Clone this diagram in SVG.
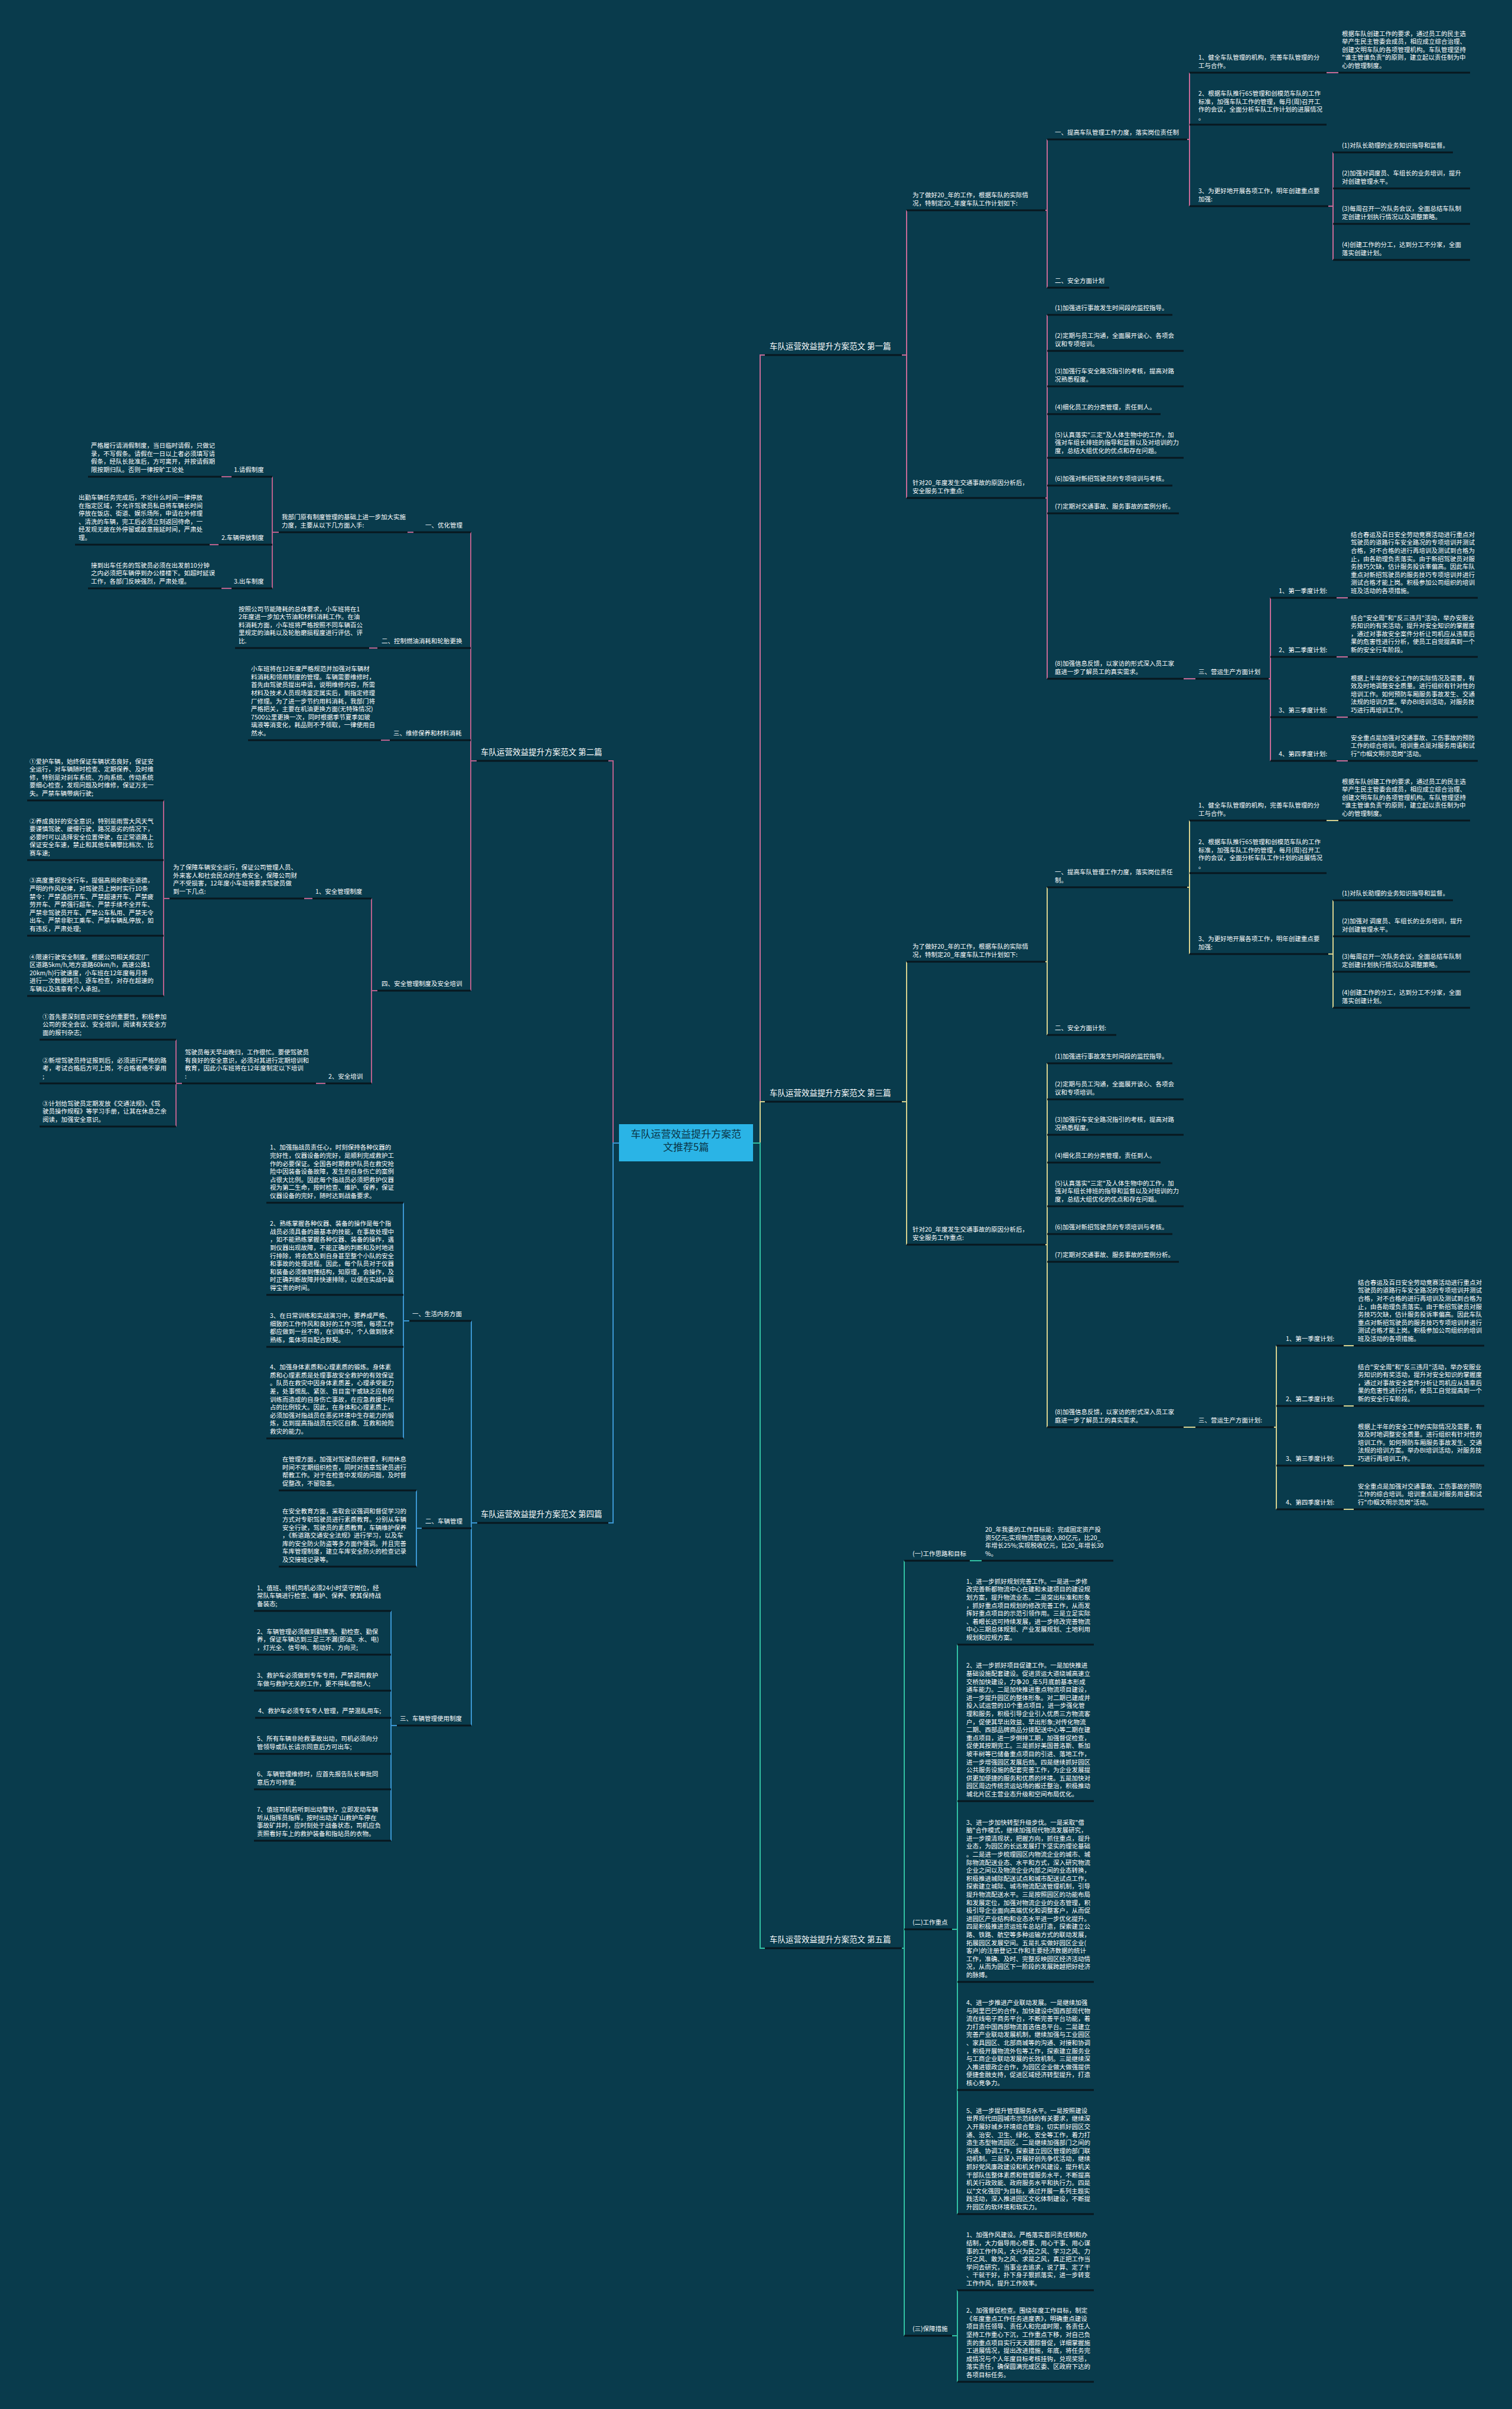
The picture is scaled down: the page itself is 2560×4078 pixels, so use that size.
<svg xmlns="http://www.w3.org/2000/svg" width="2560" height="4078" viewBox="0 0 2560 4078">
<style>
text{font-family:"Noto Sans CJK SC","Noto Sans",sans-serif;fill:#ffffff;font-size:10.5px}
.m{font-size:13.5px}
.c{font-size:17px;fill:#0a3546;text-anchor:middle}
.u{stroke:#08171e;stroke-width:3;fill:none}
.k{fill:none;stroke-width:2}
.p1{stroke:#c76a96}.p2{stroke:#b9618c}.y3{stroke:#d8d28f}.b4{stroke:#3c97d3}.g5{stroke:#32c1a3}
</style>
<rect width="2560" height="4078" fill="#093b4c"/>
<g id="connectors">
<path class="k p1" d="M1275,1935H1287V601H1295"/>
<path class="k y3" d="M1275,1935H1287V1865H1295"/>
<path class="k g5" d="M1275,1935H1287V3298H1295"/>
<path class="k p2" d="M1048,1935H1038V1288H1030"/>
<path class="k b4" d="M1048,1935H1038V2578H1030"/>
<path class="k p1" d="M1527,601H1535M1535,356V843M1535,356h8M1535,843h8M1770,356H1773M1773,236V487M1773,236h8M1773,487h8M2010,236H2014M2014,123V349M2014,123h8M2014,211h8M2014,349h8M2246,123H2266M2249,349H2257M2257,258V440M2257,258h8M2257,319h8M2257,379h8M2257,440h8M1770,843H1773M1773,533V1149M1773,533h8M1773,594h8M1773,654h8M1773,701h8M1773,775h8M1773,822h8M1773,869h8M1773,1149h8M2004,1149H2024M2148,1149H2151M2151,1012V1288M2151,1012h8M2151,1112h8M2151,1214h8M2151,1288h8M2263,1012H2282M2263,1112H2282M2263,1214H2282M2263,1288H2282"/>
<path class="k y3" d="M1527,1865H1535M1535,1628V2107M1535,1628h8M1535,2107h8M1770,1628H1773M1773,1502V1752M1773,1502h8M1773,1752h8M2010,1502H2014M2014,1389V1615M2014,1389h8M2014,1478h8M2014,1615h8M2246,1389H2266M2249,1615H2257M2257,1524V1706M2257,1524h8M2257,1585h8M2257,1645h8M2257,1706h8M1770,2107H1773M1773,1800V2416M1773,1800h8M1773,1861h8M1773,1921h8M1773,1968h8M1773,2042h8M1773,2089h8M1773,2136h8M1773,2416h8M2004,2416H2024M2157,2416H2161M2161,2278V2555M2161,2278h8M2161,2380h8M2161,2481h8M2161,2555h8M2275,2278H2292M2275,2380H2292M2275,2481H2292M2275,2555H2292"/>
<path class="k p2" d="M807,1288H797M797,901V1677M797,901h-8M797,1097h-8M797,1253h-8M797,1677h-8M700,901H690M472,901H461M461,807V996M461,807h-8M461,922h-8M461,996h-8M392,807H375M370,922H355M392,996H375M639,1097H625M660,1253H645M639,1677H629M629,1521V1834M629,1521h-8M629,1834h-8M529,1521H515M287,1521H277M277,1355V1686M277,1355h-8M277,1456h-8M277,1584h-8M277,1686h-8M551,1834H535M308,1834H298M298,1760V1907M298,1760h-8M298,1834h-8M298,1907h-8"/>
<path class="k b4" d="M808,2578H798M798,2236V2921M798,2236h-8M798,2587h-8M798,2921h-8M693,2236H683M683,2036V2435M683,2036h-8M683,2192h-8M683,2280h-8M683,2435h-8M714,2587H705M705,2523V2652M705,2523h-8M705,2652h-8M672,2921H662M662,2727V3116M662,2727h-8M662,2801h-8M662,2862h-8M662,2908h-8M662,2969h-8M662,3029h-8M662,3116h-8"/>
<path class="k g5" d="M1527,3298H1531M1531,2642V3954M1531,2642h8M1531,3266h8M1531,3954h8M1642,2642H1662M1612,3266H1621M1621,2784V3748M1621,2784h8M1621,3049h8M1621,3355h8M1621,3538h8M1621,3748h8M1612,3954H1621M1621,3877V4032M1621,3877h8M1621,4032h8"/>
</g>
<g id="center">
<rect x="1048" y="1903" width="227" height="63" fill="#2ab4e6"/>
<text class="c" x="1161.5" y="1926">车队运营效益提升方案范<tspan x="1161.5" dy="22">文推荐5篇</tspan></text>
</g>
<!-- Article 1 -->
<g id="a1"><text class="m" x="1303" y="591">车队运营效益提升方案范文 第一篇</text><line class="u" x1="1295" y1="601" x2="1527" y2="601"/></g>
<g id="a1-s1"><text x="1545" y="334.4">为了做好20_年的工作，根据车队的实际情<tspan x="1545" dy="13.6">况，特制定20_年度车队工作计划如下:</tspan></text><line class="u" x1="1535" y1="356" x2="1770" y2="356"/></g>
<g id="a1-n1"><text x="1786" y="228">一、提高车队管理工作力度，落实岗位责任制</text><line class="u" x1="1773" y1="236" x2="2010" y2="236"/></g>
<g id="a1-n1a"><text x="2029" y="101.4">1、健全车队管理的机构，完善车队管理的分<tspan x="2029" dy="13.6">工与合作。</tspan></text><line class="u" x1="2014" y1="123" x2="2246" y2="123"/></g>
<g id="a1-n1ad"><text x="2272" y="60.6">根据车队创建工作的要求，通过员工的民主选<tspan x="2272" dy="13.6">举产生民主管委会成员，相应成立综合治理、</tspan><tspan x="2272" dy="13.6">创建文明车队的各项管理机构。车队管理坚持</tspan><tspan x="2272" dy="13.6">"谁主管谁负责"的原则，建立起以责任制为中</tspan><tspan x="2272" dy="13.6">心的管理制度。</tspan></text><line class="u" x1="2266" y1="123" x2="2489" y2="123"/></g>
<g id="a1-n1b"><text x="2029" y="162.2">2、根据车队推行6S管理和创模范车队的工作<tspan x="2029" dy="13.6">标准，加强车队工作的管理，每月(周)召开工</tspan><tspan x="2029" dy="13.6">作的会议，全面分析车队工作计划的进展情况</tspan><tspan x="2029" dy="13.6">。</tspan></text><line class="u" x1="2014" y1="211" x2="2246" y2="211"/></g>
<g id="a1-n1c"><text x="2029" y="327.4">3、为更好地开展各项工作，明年创建重点要<tspan x="2029" dy="13.6">加强:</tspan></text><line class="u" x1="2014" y1="349" x2="2249" y2="349"/></g>
<g id="a1-n1c1"><text x="2272" y="250">(1)对队长助理的业务知识指导和监督。</text><line class="u" x1="2257" y1="258" x2="2460" y2="258"/></g>
<g id="a1-n1c2"><text x="2272" y="297.4">(2)加强对调度员、车组长的业务培训，提升<tspan x="2272" dy="13.6">对创建管理水平。</tspan></text><line class="u" x1="2257" y1="319" x2="2489" y2="319"/></g>
<g id="a1-n1c3"><text x="2272" y="357.4">(3)每周召开一次队务会议，全面总结车队制<tspan x="2272" dy="13.6">定创建计划执行情况以及调整策略。</tspan></text><line class="u" x1="2257" y1="379" x2="2489" y2="379"/></g>
<g id="a1-n1c4"><text x="2272" y="418.4">(4)创建工作的分工，达到分工不分家，全面<tspan x="2272" dy="13.6">落实创建计划。</tspan></text><line class="u" x1="2257" y1="440" x2="2489" y2="440"/></g>
<g id="a1-n2"><text x="1786" y="479">二、安全方面计划</text><line class="u" x1="1773" y1="487" x2="1878" y2="487"/></g>
<g id="a1-s2"><text x="1545" y="821.4">针对20_年度发生交通事故的原因分析后，<tspan x="1545" dy="13.6">安全服务工作重点:</tspan></text><line class="u" x1="1535" y1="843" x2="1770" y2="843"/></g>
<g id="a1-s2-1"><text x="1786" y="525">(1)加强进行事故发生时间段的监控指导。</text><line class="u" x1="1773" y1="533" x2="1985" y2="533"/></g>
<g id="a1-s2-2"><text x="1786" y="572.4">(2)定期与员工沟通，全面展开谈心、各项会<tspan x="1786" dy="13.6">议和专项培训。</tspan></text><line class="u" x1="1773" y1="594" x2="2004" y2="594"/></g>
<g id="a1-s2-3"><text x="1786" y="632.4">(3)加强行车安全路况指引的考核，提高对路<tspan x="1786" dy="13.6">况熟悉程度。</tspan></text><line class="u" x1="1773" y1="654" x2="2004" y2="654"/></g>
<g id="a1-s2-4"><text x="1786" y="693">(4)细化员工的分类管理，责任到人。</text><line class="u" x1="1773" y1="701" x2="1965" y2="701"/></g>
<g id="a1-s2-5"><text x="1786" y="739.8">(5)认真落实"三定"及人体生物中的工作，加<tspan x="1786" dy="13.6">强对车组长排班的指导和监督以及对培训的力</tspan><tspan x="1786" dy="13.6">度，总结大组优化的优点和存在问题。</tspan></text><line class="u" x1="1773" y1="775" x2="2004" y2="775"/></g>
<g id="a1-s2-6"><text x="1786" y="814">(6)加强对新招驾驶员的专项培训与考核。</text><line class="u" x1="1773" y1="822" x2="1985" y2="822"/></g>
<g id="a1-s2-7"><text x="1786" y="861">(7)定期对交通事故、服务事故的案例分析。</text><line class="u" x1="1773" y1="869" x2="1996" y2="869"/></g>
<g id="a1-s2-8"><text x="1786" y="1127.4">(8)加强信息反馈，以家访的形式深入员工家<tspan x="1786" dy="13.6">庭进一步了解员工的真实需求。</tspan></text><line class="u" x1="1773" y1="1149" x2="2004" y2="1149"/></g>
<g id="a1-s3"><text x="2029" y="1141">三、营运生产方面计划</text><line class="u" x1="2024" y1="1149" x2="2148" y2="1149"/></g>
<g id="a1-q1"><text x="2165" y="1004">1、第一季度计划:</text><line class="u" x1="2151" y1="1012" x2="2263" y2="1012"/></g>
<g id="a1-q1d"><text x="2287" y="908.8">结合春运及百日安全劳动竞赛活动进行重点对<tspan x="2287" dy="13.6">驾驶员的道路行车安全路况的专项培训并测试</tspan><tspan x="2287" dy="13.6">合格，对不合格的进行再培训及测试到合格为</tspan><tspan x="2287" dy="13.6">止，由各助理负责落实。由于新招驾驶员对服</tspan><tspan x="2287" dy="13.6">务技巧欠缺，估计服务投诉率偏高。因此车队</tspan><tspan x="2287" dy="13.6">重点对新招驾驶员的服务技巧专项培训并进行</tspan><tspan x="2287" dy="13.6">测试合格才能上岗。积极参加公司组织的培训</tspan><tspan x="2287" dy="13.6">班及活动的各项措施。</tspan></text><line class="u" x1="2282" y1="1012" x2="2502" y2="1012"/></g>
<g id="a1-q2"><text x="2165" y="1104">2、第二季度计划:</text><line class="u" x1="2151" y1="1112" x2="2263" y2="1112"/></g>
<g id="a1-q2d"><text x="2287" y="1049.6">结合"安全周"和"反三违月"活动，举办安服业<tspan x="2287" dy="13.6">务知识的有奖活动，提升对安全知识的掌握度</tspan><tspan x="2287" dy="13.6">，通过对事故安全案件分析让司机应从违章后</tspan><tspan x="2287" dy="13.6">果的危害性进行分析，使员工自觉提高到一个</tspan><tspan x="2287" dy="13.6">新的安全行车阶段。</tspan></text><line class="u" x1="2282" y1="1112" x2="2502" y2="1112"/></g>
<g id="a1-q3"><text x="2165" y="1206">3、第三季度计划:</text><line class="u" x1="2151" y1="1214" x2="2263" y2="1214"/></g>
<g id="a1-q3d"><text x="2287" y="1151.6">根据上半年的安全工作的实际情况及需要，有<tspan x="2287" dy="13.6">效及时地调整安全质量。进行组织有针对性的</tspan><tspan x="2287" dy="13.6">培训工作。如何预防车厢服务事故发生、交通</tspan><tspan x="2287" dy="13.6">法规的培训方案。举办BI培训活动，对服务技</tspan><tspan x="2287" dy="13.6">巧进行再培训工作。</tspan></text><line class="u" x1="2282" y1="1214" x2="2502" y2="1214"/></g>
<g id="a1-q4"><text x="2165" y="1280">4、第四季度计划:</text><line class="u" x1="2151" y1="1288" x2="2263" y2="1288"/></g>
<g id="a1-q4d"><text x="2287" y="1252.8">安全重点是加强对交通事故、工伤事故的预防<tspan x="2287" dy="13.6">工作的综合培训。培训重点是对服务用语和试</tspan><tspan x="2287" dy="13.6">行"巾帼文明示范岗"活动。</tspan></text><line class="u" x1="2282" y1="1288" x2="2502" y2="1288"/></g>
<!-- Article 3 -->
<g id="a3"><text class="m" x="1303" y="1855">车队运营效益提升方案范文 第三篇</text><line class="u" x1="1295" y1="1865" x2="1527" y2="1865"/></g>
<g id="a3-s1"><text x="1545" y="1606.4">为了做好20_年的工作，根据车队的实际情<tspan x="1545" dy="13.6">况，特制定20_年度车队工作计划如下:</tspan></text><line class="u" x1="1535" y1="1628" x2="1770" y2="1628"/></g>
<g id="a3-n1"><text x="1786" y="1480.4">一、提高车队管理工作力度，落实岗位责任<tspan x="1786" dy="13.6">制。</tspan></text><line class="u" x1="1773" y1="1502" x2="2010" y2="1502"/></g>
<g id="a3-n1a"><text x="2029" y="1367.4">1、健全车队管理的机构，完善车队管理的分<tspan x="2029" dy="13.6">工与合作。</tspan></text><line class="u" x1="2014" y1="1389" x2="2246" y2="1389"/></g>
<g id="a3-n1ad"><text x="2272" y="1326.6">根据车队创建工作的要求，通过员工的民主选<tspan x="2272" dy="13.6">举产生民主管委会成员，相应成立综合治理、</tspan><tspan x="2272" dy="13.6">创建文明车队的各项管理机构。车队管理坚持</tspan><tspan x="2272" dy="13.6">"谁主管谁负责"的原则，建立起以责任制为中</tspan><tspan x="2272" dy="13.6">心的管理制度。</tspan></text><line class="u" x1="2266" y1="1389" x2="2489" y2="1389"/></g>
<g id="a3-n1b"><text x="2029" y="1429.2">2、根据车队推行6S管理和创模范车队的工作<tspan x="2029" dy="13.6">标准，加强车队工作的管理，每月(周)召开工</tspan><tspan x="2029" dy="13.6">作的会议，全面分析车队工作计划的进展情况</tspan><tspan x="2029" dy="13.6">。</tspan></text><line class="u" x1="2014" y1="1478" x2="2246" y2="1478"/></g>
<g id="a3-n1c"><text x="2029" y="1593.4">3、为更好地开展各项工作，明年创建重点要<tspan x="2029" dy="13.6">加强:</tspan></text><line class="u" x1="2014" y1="1615" x2="2249" y2="1615"/></g>
<g id="a3-n1c1"><text x="2272" y="1516">(1)对队长助理的业务知识指导和监督。</text><line class="u" x1="2257" y1="1524" x2="2460" y2="1524"/></g>
<g id="a3-n1c2"><text x="2272" y="1563.4">(2)加强对 调度员、车组长的业务培训，提升<tspan x="2272" dy="13.6">对创建管理水平。</tspan></text><line class="u" x1="2257" y1="1585" x2="2489" y2="1585"/></g>
<g id="a3-n1c3"><text x="2272" y="1623.4">(3)每周召开一次队务会议，全面总结车队制<tspan x="2272" dy="13.6">定创建计划执行情况以及调整策略。</tspan></text><line class="u" x1="2257" y1="1645" x2="2489" y2="1645"/></g>
<g id="a3-n1c4"><text x="2272" y="1684.4">(4)创建工作的分工，达到分工不分家，全面<tspan x="2272" dy="13.6">落实创建计划。</tspan></text><line class="u" x1="2257" y1="1706" x2="2489" y2="1706"/></g>
<g id="a3-n2"><text x="1786" y="1744">二、安全方面计划:</text><line class="u" x1="1773" y1="1752" x2="1890" y2="1752"/></g>
<g id="a3-s2"><text x="1545" y="2085.4">针对20_年度发生交通事故的原因分析后，<tspan x="1545" dy="13.6">安全服务工作重点:</tspan></text><line class="u" x1="1535" y1="2107" x2="1770" y2="2107"/></g>
<g id="a3-s2-1"><text x="1786" y="1792">(1)加强进行事故发生时间段的监控指导。</text><line class="u" x1="1773" y1="1800" x2="1985" y2="1800"/></g>
<g id="a3-s2-2"><text x="1786" y="1839.4">(2)定期与员工沟通，全面展开谈心、各项会<tspan x="1786" dy="13.6">议和专项培训。</tspan></text><line class="u" x1="1773" y1="1861" x2="2004" y2="1861"/></g>
<g id="a3-s2-3"><text x="1786" y="1899.4">(3)加强行车安全路况指引的考核，提高对路<tspan x="1786" dy="13.6">况熟悉程度。</tspan></text><line class="u" x1="1773" y1="1921" x2="2004" y2="1921"/></g>
<g id="a3-s2-4"><text x="1786" y="1960">(4)细化员工的分类管理，责任到人。</text><line class="u" x1="1773" y1="1968" x2="1965" y2="1968"/></g>
<g id="a3-s2-5"><text x="1786" y="2006.8">(5)认真落实"三定"及人体生物中的工作，加<tspan x="1786" dy="13.6">强对车组长排班的指导和监督以及对培训的力</tspan><tspan x="1786" dy="13.6">度，总结大组优化的优点和存在问题。</tspan></text><line class="u" x1="1773" y1="2042" x2="2004" y2="2042"/></g>
<g id="a3-s2-6"><text x="1786" y="2081">(6)加强对新招驾驶员的专项培训与考核。</text><line class="u" x1="1773" y1="2089" x2="1985" y2="2089"/></g>
<g id="a3-s2-7"><text x="1786" y="2128">(7)定期对交通事故、服务事故的案例分析。</text><line class="u" x1="1773" y1="2136" x2="1996" y2="2136"/></g>
<g id="a3-s2-8"><text x="1786" y="2394.4">(8)加强信息反馈，以家访的形式深入员工家<tspan x="1786" dy="13.6">庭进一步了解员工的真实需求。</tspan></text><line class="u" x1="1773" y1="2416" x2="2004" y2="2416"/></g>
<g id="a3-s3"><text x="2029" y="2408">三、营运生产方面计划:</text><line class="u" x1="2024" y1="2416" x2="2157" y2="2416"/></g>
<g id="a3-q1"><text x="2177" y="2270">1、第一季度计划:</text><line class="u" x1="2161" y1="2278" x2="2275" y2="2278"/></g>
<g id="a3-q1d"><text x="2299" y="2174.8">结合春运及百日安全劳动竞赛活动进行重点对<tspan x="2299" dy="13.6">驾驶员的道路行车安全路况的专项培训并测试</tspan><tspan x="2299" dy="13.6">合格，对不合格的进行再培训及测试到合格为</tspan><tspan x="2299" dy="13.6">止，由各助理负责落实。由于新招驾驶员对服</tspan><tspan x="2299" dy="13.6">务技巧欠缺，估计服务投诉率偏高。因此车队</tspan><tspan x="2299" dy="13.6">重点对新招驾驶员的服务技巧专项培训并进行</tspan><tspan x="2299" dy="13.6">测试合格才能上岗。积极参加公司组织的培训</tspan><tspan x="2299" dy="13.6">班及活动的各项措施。</tspan></text><line class="u" x1="2292" y1="2278" x2="2513" y2="2278"/></g>
<g id="a3-q2"><text x="2177" y="2372">2、第二季度计划:</text><line class="u" x1="2161" y1="2380" x2="2275" y2="2380"/></g>
<g id="a3-q2d"><text x="2299" y="2317.6">结合"安全周"和"反三违月"活动，举办安服业<tspan x="2299" dy="13.6">务知识的有奖活动，提升对安全知识的掌握度</tspan><tspan x="2299" dy="13.6">，通过对事故安全案件分析让司机应从违章后</tspan><tspan x="2299" dy="13.6">果的危害性进行分析，使员工自觉提高到一个</tspan><tspan x="2299" dy="13.6">新的安全行车阶段。</tspan></text><line class="u" x1="2292" y1="2380" x2="2513" y2="2380"/></g>
<g id="a3-q3"><text x="2177" y="2473">3、第三季度计划:</text><line class="u" x1="2161" y1="2481" x2="2275" y2="2481"/></g>
<g id="a3-q3d"><text x="2299" y="2418.6">根据上半年的安全工作的实际情况及需要，有<tspan x="2299" dy="13.6">效及时地调整安全质量。进行组织有针对性的</tspan><tspan x="2299" dy="13.6">培训工作。如何预防车厢服务事故发生、交通</tspan><tspan x="2299" dy="13.6">法规的培训方案。举办BI培训活动，对服务技</tspan><tspan x="2299" dy="13.6">巧进行再培训工作。</tspan></text><line class="u" x1="2292" y1="2481" x2="2513" y2="2481"/></g>
<g id="a3-q4"><text x="2177" y="2547">4、第四季度计划:</text><line class="u" x1="2161" y1="2555" x2="2275" y2="2555"/></g>
<g id="a3-q4d"><text x="2299" y="2519.8">安全重点是加强对交通事故、工伤事故的预防<tspan x="2299" dy="13.6">工作的综合培训。培训重点是对服务用语和试</tspan><tspan x="2299" dy="13.6">行"巾帼文明示范岗"活动。</tspan></text><line class="u" x1="2292" y1="2555" x2="2513" y2="2555"/></g>
<!-- Article 2 -->
<g id="a2"><text class="m" x="814" y="1278">车队运营效益提升方案范文 第二篇</text><line class="u" x1="807" y1="1288" x2="1030" y2="1288"/></g>
<g id="a2-l1"><text x="720" y="893">一、优化管理</text><line class="u" x1="700" y1="901" x2="797" y2="901"/></g>
<g id="a2-l1d"><text x="477" y="879.4">我部门原有制度管理的基础上进一步加大实施<tspan x="477" dy="13.6">力度，主要从以下几方面入手:</tspan></text><line class="u" x1="472" y1="901" x2="690" y2="901"/></g>
<g id="a2-l1a"><text x="396" y="799">1.请假制度</text><line class="u" x1="392" y1="807" x2="461" y2="807"/></g>
<g id="a2-l1ad"><text x="154" y="758.2">严格履行请消假制度，当日临时请假，只做记<tspan x="154" dy="13.6">录，不写假条。请假在一日以上者必须填写请</tspan><tspan x="154" dy="13.6">假条，经队长批准后，方可离开，并按请假期</tspan><tspan x="154" dy="13.6">限按期归队。否则一律按旷工论处</tspan></text><line class="u" x1="149" y1="807" x2="375" y2="807"/></g>
<g id="a2-l1b"><text x="375" y="914">2.车辆停放制度</text><line class="u" x1="370" y1="922" x2="461" y2="922"/></g>
<g id="a2-l1bd"><text x="133" y="846">出勤车辆任务完成后，不论什么时间一律停放<tspan x="133" dy="13.6">在指定区域，不允许驾驶员私自将车辆长时间</tspan><tspan x="133" dy="13.6">停放在饭店、街道、娱乐场所，申请在外修理</tspan><tspan x="133" dy="13.6">、清洗的车辆，完工后必须立刻返回待命，一</tspan><tspan x="133" dy="13.6">经发现无故在外停留或故意拖延时间，严肃处</tspan><tspan x="133" dy="13.6">理。</tspan></text><line class="u" x1="127" y1="922" x2="355" y2="922"/></g>
<g id="a2-l1c"><text x="396" y="988">3.出车制度</text><line class="u" x1="392" y1="996" x2="461" y2="996"/></g>
<g id="a2-l1cd"><text x="154" y="960.8">接到出车任务的驾驶员必须在出发前10分钟<tspan x="154" dy="13.6">之内必须把车辆停到办公楼楼下。如超时延误</tspan><tspan x="154" dy="13.6">工作，各部门反映强烈，严肃处理。</tspan></text><line class="u" x1="149" y1="996" x2="375" y2="996"/></g>
<g id="a2-l2"><text x="646" y="1089">二、控制燃油消耗和轮胎更换</text><line class="u" x1="639" y1="1097" x2="797" y2="1097"/></g>
<g id="a2-l2d"><text x="404" y="1034.6">按照公司节能降耗的总体要求，小车班将在1<tspan x="404" dy="13.6">2年度进一步加大节油和材料消耗工作。在油</tspan><tspan x="404" dy="13.6">料消耗方面，小车班将严格按照不同车辆百公</tspan><tspan x="404" dy="13.6">里规定的油耗以及轮胎磨损程度进行评估、评</tspan><tspan x="404" dy="13.6">比.</tspan></text><line class="u" x1="398" y1="1097" x2="625" y2="1097"/></g>
<g id="a2-l3"><text x="666" y="1245">三、维修保养和材料消耗</text><line class="u" x1="660" y1="1253" x2="797" y2="1253"/></g>
<g id="a2-l3d"><text x="425" y="1136.2">小车班将在12年度严格规范并加强对车辆材<tspan x="425" dy="13.6">料消耗和领用制度的管理。车辆需要维修时，</tspan><tspan x="425" dy="13.6">首先由驾驶员提出申请，说明维修内容，所需</tspan><tspan x="425" dy="13.6">材料及技术人员现场鉴定属实后，到指定修理</tspan><tspan x="425" dy="13.6">厂修理。为了进一步节约用料消耗，我部门将</tspan><tspan x="425" dy="13.6">严格把关，主要在机油更换方面(无特殊情况)</tspan><tspan x="425" dy="13.6">7500公里更换一次，同时根据季节夏季如玻</tspan><tspan x="425" dy="13.6">璃液等消变化，耗品则不予领取，一律使用自</tspan><tspan x="425" dy="13.6">然水。</tspan></text><line class="u" x1="420" y1="1253" x2="645" y2="1253"/></g>
<g id="a2-l4"><text x="646" y="1669">四、安全管理制度及安全培训</text><line class="u" x1="639" y1="1677" x2="797" y2="1677"/></g>
<g id="a2-l4a"><text x="534" y="1513">1、安全管理制度</text><line class="u" x1="529" y1="1521" x2="629" y2="1521"/></g>
<g id="a2-l4ad"><text x="293" y="1472.2">为了保障车辆安全运行，保证公司管理人员、<tspan x="293" dy="13.6">外来客人和社会民众的生命安全，保障公司财</tspan><tspan x="293" dy="13.6">产不受损害，12年度小车班将要求驾驶员做</tspan><tspan x="293" dy="13.6">到一下几点:</tspan></text><line class="u" x1="287" y1="1521" x2="515" y2="1521"/></g>
<g id="a2-l4a1"><text x="50" y="1292.6">①爱护车辆，始终保证车辆状态良好，保证安<tspan x="50" dy="13.6">全运行，对车辆随时检查、定期保养、及时维</tspan><tspan x="50" dy="13.6">修，特别是对刹车系统、方向系统、传动系统</tspan><tspan x="50" dy="13.6">要细心检查，发现问题及时维修，保证万无一</tspan><tspan x="50" dy="13.6">失。严禁车辆带病行驶;</tspan></text><line class="u" x1="46" y1="1355" x2="277" y2="1355"/></g>
<g id="a2-l4a2"><text x="50" y="1393.6">②养成良好的安全意识，特别是雨雪大风天气<tspan x="50" dy="13.6">要谨慎驾驶、缓慢行驶，路况恶劣的情况下，</tspan><tspan x="50" dy="13.6">必要时可以选择安全位置停驶，在正常道路上</tspan><tspan x="50" dy="13.6">保证安全车速，禁止和其他车辆攀比档次、比</tspan><tspan x="50" dy="13.6">赛车速;</tspan></text><line class="u" x1="46" y1="1456" x2="277" y2="1456"/></g>
<g id="a2-l4a3"><text x="50" y="1494.4">③高度重视安全行车，提倡高尚的职业道德，<tspan x="50" dy="13.6">严明的作风纪律，对驾驶员上岗时实行10条</tspan><tspan x="50" dy="13.6">禁令：严禁酒后开车、严禁超速开车、严禁疲</tspan><tspan x="50" dy="13.6">劳开车、严禁强行超车、严禁手续不全开车、</tspan><tspan x="50" dy="13.6">严禁非驾驶员开车、严禁公车私用、严禁无令</tspan><tspan x="50" dy="13.6">出车、严禁非职工乘车、严禁车辆乱停放，如</tspan><tspan x="50" dy="13.6">有违反，严肃处理;</tspan></text><line class="u" x1="46" y1="1584" x2="277" y2="1584"/></g>
<g id="a2-l4a4"><text x="50" y="1623.6">④限速行驶安全制度。根据公司相关规定(厂<tspan x="50" dy="13.6">区道路5km/h,地方道路60km/h，高速公路1</tspan><tspan x="50" dy="13.6">20km/h)行驶速度，小车班在12年度每月将</tspan><tspan x="50" dy="13.6">进行一次数据拷贝、逐车检查，对存在超速的</tspan><tspan x="50" dy="13.6">车辆以及违章有个人承担。</tspan></text><line class="u" x1="46" y1="1686" x2="277" y2="1686"/></g>
<g id="a2-l4b"><text x="556" y="1826">2、安全培训</text><line class="u" x1="551" y1="1834" x2="629" y2="1834"/></g>
<g id="a2-l4bd"><text x="313" y="1785.2">驾驶员每天早出晚归，工作很忙。要使驾驶员<tspan x="313" dy="13.6">有良好的安全意识，必须对其进行定期培训和</tspan><tspan x="313" dy="13.6">教育，因此小车班将在12年度制定以下培训</tspan><tspan x="313" dy="13.6">:</tspan></text><line class="u" x1="308" y1="1834" x2="535" y2="1834"/></g>
<g id="a2-l4b1"><text x="72" y="1724.8">①首先要深刻意识到安全的重要性，积极参加<tspan x="72" dy="13.6">公司的安全会议、安全培训，阅读有关安全方</tspan><tspan x="72" dy="13.6">面的报刊杂志;</tspan></text><line class="u" x1="67" y1="1760" x2="298" y2="1760"/></g>
<g id="a2-l4b2"><text x="72" y="1798.8">②新增驾驶员持证报到后，必须进行严格的路<tspan x="72" dy="13.6">考，考试合格后方可上岗，不合格者绝不录用</tspan><tspan x="72" dy="13.6">;</tspan></text><line class="u" x1="67" y1="1834" x2="298" y2="1834"/></g>
<g id="a2-l4b3"><text x="72" y="1871.8">③计划给驾驶员定期发放《交通法规》、《驾<tspan x="72" dy="13.6">驶员操作规程》等学习手册，让其在休息之余</tspan><tspan x="72" dy="13.6">阅读，加强安全意识。</tspan></text><line class="u" x1="67" y1="1907" x2="298" y2="1907"/></g>
<!-- Article 4 -->
<g id="a4"><text class="m" x="814" y="2568">车队运营效益提升方案范文 第四篇</text><line class="u" x1="808" y1="2578" x2="1030" y2="2578"/></g>
<g id="a4-b1"><text x="698" y="2228">一、生活内务方面</text><line class="u" x1="693" y1="2236" x2="798" y2="2236"/></g>
<g id="a4-b1-1"><text x="457" y="1946.4">1、加强指战员责任心，时刻保持各种仪器的<tspan x="457" dy="13.6">完好性，仪器设备的完好，是顺利完成救护工</tspan><tspan x="457" dy="13.6">作的必要保证。全国各时期救护队员在救灾抢</tspan><tspan x="457" dy="13.6">险中因装备设备故障，发生的自身伤亡的案例</tspan><tspan x="457" dy="13.6">占很大比例。因此每个指战员必须把救护仪器</tspan><tspan x="457" dy="13.6">视为第二生命，按时检查、维护、保养，保证</tspan><tspan x="457" dy="13.6">仪器设备的完好，随时达到战备要求。</tspan></text><line class="u" x1="451" y1="2036" x2="683" y2="2036"/></g>
<g id="a4-b1-2"><text x="457" y="2075.2">2、熟练掌握各种仪器、装备的操作是每个指<tspan x="457" dy="13.6">战员必须具备的最基本的技能，在事故处理中</tspan><tspan x="457" dy="13.6">，如不能熟练掌握各种仪器、装备的操作，遇</tspan><tspan x="457" dy="13.6">到仪器出现故障，不能正确的判断和及时地进</tspan><tspan x="457" dy="13.6">行排除，将会危及到自身甚至整个小队的安全</tspan><tspan x="457" dy="13.6">和事故的处理进程。因此，每个队员对于仪器</tspan><tspan x="457" dy="13.6">和装备必须做到懂结构，知原理，会操作，及</tspan><tspan x="457" dy="13.6">时正确判断故障并快速排除，以便在实战中赢</tspan><tspan x="457" dy="13.6">得宝贵的时间。</tspan></text><line class="u" x1="451" y1="2192" x2="683" y2="2192"/></g>
<g id="a4-b1-3"><text x="457" y="2231.2">3、在日常训练和实战演习中，要养成严格、<tspan x="457" dy="13.6">细致的工作作风和良好的工作习惯，每项工作</tspan><tspan x="457" dy="13.6">都应做到一丝不苟，在训练中，个人做到技术</tspan><tspan x="457" dy="13.6">熟练，集体项目配合默契。</tspan></text><line class="u" x1="451" y1="2280" x2="683" y2="2280"/></g>
<g id="a4-b1-4"><text x="457" y="2318.2">4、加强身体素质和心理素质的锻炼。身体素<tspan x="457" dy="13.6">质和心理素质是处理事故安全救护的有效保证</tspan><tspan x="457" dy="13.6">。队员在救灾中因身体素质差，心理承受能力</tspan><tspan x="457" dy="13.6">差，处事慌乱、紧张、盲目蛮干或缺乏应有的</tspan><tspan x="457" dy="13.6">训练而造成的自身伤亡事故，在应急救援中所</tspan><tspan x="457" dy="13.6">占的比例较大。因此，在身体和心理素质上，</tspan><tspan x="457" dy="13.6">必须加强对指战员在恶劣环境中生存能力的锻</tspan><tspan x="457" dy="13.6">炼，达到提高指战员在灾区自救、互救和抢险</tspan><tspan x="457" dy="13.6">救灾的能力。</tspan></text><line class="u" x1="451" y1="2435" x2="683" y2="2435"/></g>
<g id="a4-b2"><text x="720" y="2579">二、车辆管理</text><line class="u" x1="714" y1="2587" x2="798" y2="2587"/></g>
<g id="a4-b2-1"><text x="478" y="2474.2">在管理方面，加强对驾驶员的管理，利用休息<tspan x="478" dy="13.6">时间不定期组织检查，同时对违章驾驶员进行</tspan><tspan x="478" dy="13.6">帮教工作。对于在检查中发现的问题，及时督</tspan><tspan x="478" dy="13.6">促整改，不留隐患。</tspan></text><line class="u" x1="472" y1="2523" x2="705" y2="2523"/></g>
<g id="a4-b2-2"><text x="478" y="2562.4">在安全教育方面，采取会议强调和督促学习的<tspan x="478" dy="13.6">方式对专职驾驶员进行素质教育。分别从车辆</tspan><tspan x="478" dy="13.6">安全行驶，驾驶员的素质教育，车辆维护保养</tspan><tspan x="478" dy="13.6">，《新道路交通安全法规》进行学习，以及车</tspan><tspan x="478" dy="13.6">库的安全防火防盗等多方面作强调。并且完善</tspan><tspan x="478" dy="13.6">车库管理制度，建立车库安全防火的检查记录</tspan><tspan x="478" dy="13.6">及交接班记录等。</tspan></text><line class="u" x1="472" y1="2652" x2="705" y2="2652"/></g>
<g id="a4-b3"><text x="677" y="2913">三、车辆管理使用制度</text><line class="u" x1="672" y1="2921" x2="798" y2="2921"/></g>
<g id="a4-b3-1"><text x="435" y="2691.8">1、值班、待机司机必须24小时坚守岗位，经<tspan x="435" dy="13.6">常队车辆进行检查、维护、保养、使其保持战</tspan><tspan x="435" dy="13.6">备装态;</tspan></text><line class="u" x1="430" y1="2727" x2="662" y2="2727"/></g>
<g id="a4-b3-2"><text x="435" y="2765.8">2、车辆管理必须做到勤擦洗、勤检查、勤保<tspan x="435" dy="13.6">养，保证车辆达到三足三不漏(即油、水、电)</tspan><tspan x="435" dy="13.6">，灯光全、信号响、制动好、方向灵;</tspan></text><line class="u" x1="430" y1="2801" x2="662" y2="2801"/></g>
<g id="a4-b3-3"><text x="435" y="2840.4">3、救护车必须做到专车专用，严禁调用救护<tspan x="435" dy="13.6">车做与救护无关的工作，更不得私借他人;</tspan></text><line class="u" x1="430" y1="2862" x2="662" y2="2862"/></g>
<g id="a4-b3-4"><text x="437" y="2900">4、救护车必须专车专人管理，严禁混乱用车;</text><line class="u" x1="432" y1="2908" x2="662" y2="2908"/></g>
<g id="a4-b3-5"><text x="435" y="2947.4">5、所有车辆非抢救事故出动，司机必须向分<tspan x="435" dy="13.6">管领导或队长请示同意后方可出车;</tspan></text><line class="u" x1="430" y1="2969" x2="662" y2="2969"/></g>
<g id="a4-b3-6"><text x="435" y="3007.4">6、车辆管理维修时，应首先报告队长审批同<tspan x="435" dy="13.6">意后方可修理;</tspan></text><line class="u" x1="430" y1="3029" x2="662" y2="3029"/></g>
<g id="a4-b3-7"><text x="435" y="3067.2">7、值班司机若听到出动警铃，立即发动车辆<tspan x="435" dy="13.6">听从指挥员指挥，按时出动;矿山救护车停在</tspan><tspan x="435" dy="13.6">事故矿井时，应时刻处于战备状态，司机应负</tspan><tspan x="435" dy="13.6">责照看好车上的救护装备和指站员的衣物。</tspan></text><line class="u" x1="430" y1="3116" x2="662" y2="3116"/></g>
<!-- Article 5 -->
<g id="a5"><text class="m" x="1303" y="3288">车队运营效益提升方案范文 第五篇</text><line class="u" x1="1295" y1="3298" x2="1527" y2="3298"/></g>
<g id="a5-c1"><text x="1545" y="2634">(一)工作思路和目标</text><line class="u" x1="1531" y1="2642" x2="1642" y2="2642"/></g>
<g id="a5-c1d"><text x="1668" y="2593.2">20_年我委的工作目标是：完成固定资产投<tspan x="1668" dy="13.6">资5亿元;实现物流营运收入80亿元，比20_</tspan><tspan x="1668" dy="13.6">年增长25%;实现税收亿元，比20_年增长30</tspan><tspan x="1668" dy="13.6">%。</tspan></text><line class="u" x1="1662" y1="2642" x2="1885" y2="2642"/></g>
<g id="a5-c2"><text x="1545" y="3258">(二)工作重点</text><line class="u" x1="1531" y1="3266" x2="1612" y2="3266"/></g>
<g id="a5-c2-1"><text x="1636" y="2680.8">1、进一步抓好规划完善工作。一是进一步修<tspan x="1636" dy="13.6">改完善新都物流中心在建和未建项目的建设规</tspan><tspan x="1636" dy="13.6">划方案，提升物流业态。二是突出标准和形象</tspan><tspan x="1636" dy="13.6">，抓好重点项目规划的修改完善工作，从而发</tspan><tspan x="1636" dy="13.6">挥好重点项目的示范引领作用。三是立足实际</tspan><tspan x="1636" dy="13.6">、着眼长远可持续发展，进一步修改完善物流</tspan><tspan x="1636" dy="13.6">中心三期总体规划、产业发展规划、土地利用</tspan><tspan x="1636" dy="13.6">规划和控规方案。</tspan></text><line class="u" x1="1621" y1="2784" x2="1852" y2="2784"/></g>
<g id="a5-c2-2"><text x="1636" y="2823.4">2、进一步抓好项目促建工作。一是加快推进<tspan x="1636" dy="13.6">基础设施配套建设。促进货运大道绕城高速立</tspan><tspan x="1636" dy="13.6">交桥加快建设，力争20_年5月底前基本形成</tspan><tspan x="1636" dy="13.6">通车能力。二是加快推进重点物流项目建设，</tspan><tspan x="1636" dy="13.6">进一步提升园区的整体形象。对二期已建成并</tspan><tspan x="1636" dy="13.6">投入试运营的10个重点项目，进一步强化管</tspan><tspan x="1636" dy="13.6">理和服务，积极引导企业引入优质三方物流客</tspan><tspan x="1636" dy="13.6">户，促使其早出效益、早出形象;对传化物流</tspan><tspan x="1636" dy="13.6">二期、西部品牌商品分拨配送中心等二期在建</tspan><tspan x="1636" dy="13.6">重点项目，进一步倒排工期，加强督促检查，</tspan><tspan x="1636" dy="13.6">促使其按期完工。三是抓好美国普洛斯、新加</tspan><tspan x="1636" dy="13.6">坡丰树等已储备重点项目的引进、落地工作，</tspan><tspan x="1636" dy="13.6">进一步增强园区发展后劲。四是继续抓好园区</tspan><tspan x="1636" dy="13.6">公共服务设施的配套完善工作，为企业发展提</tspan><tspan x="1636" dy="13.6">供更加便捷的服务和优质的环境。五是加快对</tspan><tspan x="1636" dy="13.6">园区周边传统货运站场的搬迁整治，积极推动</tspan><tspan x="1636" dy="13.6">城北片区主营业态升级和空间布局优化。</tspan></text><line class="u" x1="1621" y1="3049" x2="1852" y2="3049"/></g>
<g id="a5-c2-3"><text x="1636" y="3088.6">3、进一步加快转型升级步伐。一是采取"借<tspan x="1636" dy="13.6">脑"合作模式，继续加强现代物流发展研究，</tspan><tspan x="1636" dy="13.6">进一步摸清现状，把握方向，抓住重点，提升</tspan><tspan x="1636" dy="13.6">业态，为园区的长远发展打下坚实的理论基础</tspan><tspan x="1636" dy="13.6">。二是进一步梳理园区内物流企业的城市、城</tspan><tspan x="1636" dy="13.6">际物流配送业态、水平和方式，深入研究物流</tspan><tspan x="1636" dy="13.6">企业之间以及物流企业内部之间的业态转换，</tspan><tspan x="1636" dy="13.6">积极推进城际配送试点和城市配送试点工作，</tspan><tspan x="1636" dy="13.6">探索建立城际、城市物流配送管理机制，引导</tspan><tspan x="1636" dy="13.6">提升物流配送水平。三是按照园区的功能布局</tspan><tspan x="1636" dy="13.6">和发展定位，加强对物流企业的业态管理，积</tspan><tspan x="1636" dy="13.6">极引导企业面向高端优化和调整客户，从而促</tspan><tspan x="1636" dy="13.6">进园区产业结构和业态水平进一步优化提升。</tspan><tspan x="1636" dy="13.6">四是积极推进货运班车总站打造，探索建立公</tspan><tspan x="1636" dy="13.6">路、铁路、航空等多种运输方式的联动发展，</tspan><tspan x="1636" dy="13.6">拓展园区发展空间。五是扎实做好园区企业(</tspan><tspan x="1636" dy="13.6">客户)的注册登记工作和主要经济数据的统计</tspan><tspan x="1636" dy="13.6">工作，准确、及时、完整反映园区经济活动情</tspan><tspan x="1636" dy="13.6">况，从而为园区下一阶段的发展跨越把好经济</tspan><tspan x="1636" dy="13.6">的脉搏。</tspan></text><line class="u" x1="1621" y1="3355" x2="1852" y2="3355"/></g>
<g id="a5-c2-4"><text x="1636" y="3394">4、进一步推进产业联动发展。一是继续加强<tspan x="1636" dy="13.6">与阿里巴巴的合作，加快建设中国西部现代物</tspan><tspan x="1636" dy="13.6">流在线电子商务平台，不断完善平台功能，着</tspan><tspan x="1636" dy="13.6">力打造中国西部物流首选信息平台。二是建立</tspan><tspan x="1636" dy="13.6">完善产业联动发展机制，继续加强与工业园区</tspan><tspan x="1636" dy="13.6">、家具园区、北部商城等的沟通、对接和协调</tspan><tspan x="1636" dy="13.6">，积极开展物流外包等工作，探索建立服务业</tspan><tspan x="1636" dy="13.6">与工商企业联动发展的长效机制。三是继续深</tspan><tspan x="1636" dy="13.6">入推进银政企合作，为园区企业做大做强提供</tspan><tspan x="1636" dy="13.6">便捷金融支持，促进区域经济转型提升，打造</tspan><tspan x="1636" dy="13.6">核心竞争力。</tspan></text><line class="u" x1="1621" y1="3538" x2="1852" y2="3538"/></g>
<g id="a5-c2-5"><text x="1636" y="3576.8">5、进一步提升管理服务水平。一是按照建设<tspan x="1636" dy="13.6">世界现代田园城市示范线的有关要求，继续深</tspan><tspan x="1636" dy="13.6">入开展好城乡环境综合整治，切实抓好园区交</tspan><tspan x="1636" dy="13.6">通、治安、卫生、绿化、安全等工作，着力打</tspan><tspan x="1636" dy="13.6">造生态型物流园区。二是继续加强部门之间的</tspan><tspan x="1636" dy="13.6">沟通、协调工作，探索建立园区管理的部门联</tspan><tspan x="1636" dy="13.6">动机制。三是深入开展好创先争优活动，继续</tspan><tspan x="1636" dy="13.6">抓好党风廉政建设和机关作风建设，提升机关</tspan><tspan x="1636" dy="13.6">干部队伍整体素质和管理服务水平，不断提高</tspan><tspan x="1636" dy="13.6">机关行政效能、政府服务水平和执行力。四是</tspan><tspan x="1636" dy="13.6">以"文化强园"为目标，通过开展一系列主题实</tspan><tspan x="1636" dy="13.6">践活动，深入推进园区文化体制建设，不断提</tspan><tspan x="1636" dy="13.6">升园区的软环境和软实力。</tspan></text><line class="u" x1="1621" y1="3748" x2="1852" y2="3748"/></g>
<g id="a5-c3"><text x="1545" y="3946">(三)保障措施</text><line class="u" x1="1531" y1="3954" x2="1612" y2="3954"/></g>
<g id="a5-c3-1"><text x="1636" y="3787.4">1、加强作风建设。严格落实首问责任制和办<tspan x="1636" dy="13.6">结制，大力倡导用心想事、用心干事、用心谋</tspan><tspan x="1636" dy="13.6">事的工作作风，大兴为民之风、学习之风、力</tspan><tspan x="1636" dy="13.6">行之风、敢为之风、求是之风，真正把工作当</tspan><tspan x="1636" dy="13.6">学问去研究，当事业去追求，说了算、定了干</tspan><tspan x="1636" dy="13.6">、干就干好，扑下身子狠抓落实，进一步转变</tspan><tspan x="1636" dy="13.6">工作作风，提升工作效率。</tspan></text><line class="u" x1="1621" y1="3877" x2="1852" y2="3877"/></g>
<g id="a5-c3-2"><text x="1636" y="3915.2">2、加强督促检查。围绕年度工作目标，制定<tspan x="1636" dy="13.6">《年度重点工作任务进度表》，明确重点建设</tspan><tspan x="1636" dy="13.6">项目责任领导、责任人和完成时限，各责任人</tspan><tspan x="1636" dy="13.6">坚持工作重心下沉，工作重点下移，对自己负</tspan><tspan x="1636" dy="13.6">责的重点项目实行天天跟踪督促，详细掌握施</tspan><tspan x="1636" dy="13.6">工进展情况，提出改进措施，年底，将任务完</tspan><tspan x="1636" dy="13.6">成情况与个人年度目标考核挂钩，兑现奖惩，</tspan><tspan x="1636" dy="13.6">落实责任，确保圆满完成区委、区政府下达的</tspan><tspan x="1636" dy="13.6">各项目标任务。</tspan></text><line class="u" x1="1621" y1="4032" x2="1852" y2="4032"/></g>
</svg>
